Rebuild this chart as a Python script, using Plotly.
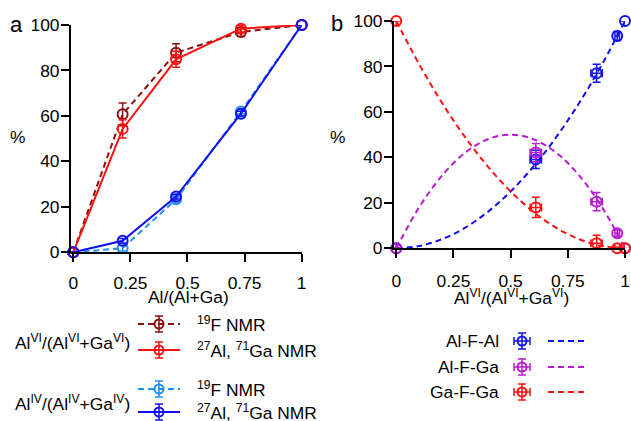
import plotly.graph_objects as go

# ---------------- data: panel a ----------------
xa = [0, 0.216, 0.45, 0.734, 1.0]
vi_19f = [0, 60.7, 87.8, 96.9, 100]
vi_19f_err = [0, 5, 4, 2, 0]
vi_alga = [0, 54.3, 84.9, 98.4, 100]
vi_alga_err = [0, 4, 3.5, 1.5, 0]
iv_19f = [0, 1.8, 23.3, 61.9, 100]
iv_19f_err = [0, 1.2, 1.2, 1, 0]
iv_alga = [0, 5.1, 24.5, 61.0, 100]
iv_alga_err = [0, 1, 1, 1, 0]

# ---------------- data: panel b ----------------
xb = [0, 0.61, 0.876, 0.966, 1.0]
xb_err = [0, 0.025, 0.025, 0.01, 0]
alfal = [0, 39.1, 77.0, 93.4, 100]
alfal_err = [0, 4, 4, 2, 0]
alfga = [0, 42.1, 20.5, 6.6, 0]
alfga_err = [0, 4, 4, 1.5, 0]
gafga = [100, 18.0, 2.2, 0, 0]
gafga_err = [0, 4.5, 3.5, 0.5, 0]

# dashed model curves
xc = [0, 0.1, 0.2, 0.3, 0.4, 0.5, 0.6, 0.7, 0.8, 0.9, 1.0]
c_alfal = [0, 1, 4, 9, 16, 25, 36, 49, 64, 81, 100]
c_alfga = [0, 18, 32, 42, 48, 50, 48, 42, 32, 18, 0]
c_gafga = [100, 81, 64, 49, 36, 25, 16, 9, 4, 1, 0]

xticks = [0, 0.25, 0.5, 0.75, 1]
xtick_text = ["0", "0.25", "0.5", "0.75", "1"]
yticks = [0, 20, 40, 60, 80, 100]

# ---------------- style ----------------
W, H = 631, 421
FONT = "Liberation Sans, Arial, sans-serif"
FS = 17.4
DARKRED = "#8B1010"
RED = "#FF1010"
LIGHTBLUE = "#2090F0"
BLUE = "#1010F0"
MAGENTA = "#B81AD0"
DASH = "6px,4px"

fig = go.Figure()


def series(x, y, ey, color, dash, xaxis, yaxis, ex=None):
    kw = {}
    if ex is not None:
        kw["error_x"] = dict(type="data", array=ex, color=color, thickness=1.5, width=4)
    fig.add_trace(go.Scatter(
        x=x, y=y, mode="lines+markers" if dash is not None else "markers",
        xaxis=xaxis, yaxis=yaxis, cliponaxis=False, showlegend=False,
        line=dict(color=color, width=2, dash=dash if dash else "solid"),
        marker=dict(symbol="circle-open", size=10, color=color, line=dict(width=2, color=color)),
        error_y=dict(type="data", array=ey, color=color, thickness=1.5, width=4),
        **kw))


# panel a
series(xa, vi_19f, vi_19f_err, DARKRED, DASH, "x", "y")
series(xa, iv_19f, iv_19f_err, LIGHTBLUE, DASH, "x", "y")
series(xa, vi_alga, vi_alga_err, RED, "solid", "x", "y")
series(xa, iv_alga, iv_alga_err, BLUE, "solid", "x", "y")

# panel b curves
for yc, col in [(c_alfal, BLUE), (c_alfga, MAGENTA), (c_gafga, RED)]:
    fig.add_trace(go.Scatter(x=xc, y=yc, mode="lines", line_shape="spline",
                             xaxis="x2", yaxis="y2", showlegend=False, cliponaxis=False,
                             line=dict(color=col, width=2, dash=DASH)))
# panel b points
series(xb, alfal, alfal_err, BLUE, None, "x2", "y2", xb_err)
series(xb, alfga, alfga_err, MAGENTA, None, "x2", "y2", xb_err)
series(xb, gafga, gafga_err, RED, None, "x2", "y2", xb_err)

# ---------------- legend glyphs (helper pixel axis) ----------------
LEG_A = [  # (row y, color, dash)
    (324, DARKRED, DASH), (350, RED, "solid"), (389, LIGHTBLUE, DASH), (412, BLUE, "solid")]
LEG_A_X = (138, 159, 180)
for yy, col, dsh in LEG_A:
    fig.add_trace(go.Scatter(x=[LEG_A_X[0], LEG_A_X[2]], y=[yy, yy], mode="lines",
                             xaxis="x3", yaxis="y3", showlegend=False, hoverinfo="skip",
                             line=dict(color=col, width=2, dash=dsh)))
    fig.add_trace(go.Scatter(x=[LEG_A_X[1]], y=[yy], mode="markers", xaxis="x3", yaxis="y3",
                             showlegend=False, hoverinfo="skip",
                             marker=dict(symbol="circle-open", size=9, color=col, line=dict(width=2, color=col)),
                             error_y=dict(type="data", array=[8], color=col, thickness=1.5, width=4)))

LEG_B = [(341, BLUE, "Al-F-Al"), (367, MAGENTA, "Al-F-Ga"), (392, RED, "Ga-F-Ga")]
LEG_B_MX = 522
LEG_B_LX = (548, 588)
for yy, col, name in LEG_B:
    fig.add_trace(go.Scatter(x=[LEG_B_MX], y=[yy], mode="markers", xaxis="x3", yaxis="y3",
                             showlegend=False, hoverinfo="skip",
                             marker=dict(symbol="circle-open", size=9, color=col, line=dict(width=2, color=col)),
                             error_y=dict(type="data", array=[8], color=col, thickness=1.5, width=4),
                             error_x=dict(type="data", array=[8], color=col, thickness=1.5, width=4)))
    fig.add_trace(go.Scatter(x=list(LEG_B_LX), y=[yy, yy], mode="lines", xaxis="x3", yaxis="y3",
                             showlegend=False, hoverinfo="skip",
                             line=dict(color=col, width=2, dash=DASH)))

# ---------------- axes ----------------
axis_common = dict(showgrid=False, zeroline=False, showline=True, linecolor="black", linewidth=2,
                   ticks="outside", ticklen=8, tickwidth=2, tickcolor="black", automargin=False,
                   tickfont=dict(family=FONT, size=FS, color="black"))

fig.update_layout(
    template="none",
    width=W, height=H, margin=dict(l=0, r=0, t=0, b=0, pad=0), autosize=False,
    paper_bgcolor="white", plot_bgcolor="rgba(0,0,0,0)",
    font=dict(family=FONT, size=FS, color="black"),
    xaxis=dict(domain=[71 / W, 301.7 / W], range=[-0.01, 1], anchor="y", ticklabelstandoff=6,
               tickvals=xticks, ticktext=xtick_text, **axis_common),
    yaxis=dict(domain=[(H - 252.3) / H, (H - 25) / H], range=[0, 100], anchor="x",
               ticklabelstandoff=-2, tickvals=yticks, **axis_common),
    xaxis2=dict(domain=[394 / W, 625 / W], range=[-0.01, 1], anchor="y2", ticklabelstandoff=8,
                tickvals=xticks, ticktext=xtick_text, **axis_common),
    yaxis2=dict(domain=[(H - 248.3) / H, (H - 21) / H], range=[0, 100], anchor="x2",
                ticklabelstandoff=-2, tickvals=yticks, **axis_common),
    xaxis3=dict(domain=[0, 1], range=[0, W], visible=False, anchor="y3", fixedrange=True,
                automargin=False),
    yaxis3=dict(domain=[0, 1], range=[H, 0], visible=False, anchor="x3", fixedrange=True,
                automargin=False),
    showlegend=False,
)

ann = []


def txt(x, y, t, size=FS, xanchor="center"):
    ann.append(dict(x=x, y=y, xref="x3", yref="y3", text=t, showarrow=False,
                    xanchor=xanchor, yanchor="middle", font=dict(family=FONT, size=size, color="black")))


txt(16.5, 24, "a", 22)
txt(337, 23, "b", 22)
txt(17, 137, "%")
txt(337, 137, "%")
txt(188, 297, "Al/(Al+Ga)")
txt(511, 297, "Al<sup>VI</sup>/(Al<sup>VI</sup>+Ga<sup>VI</sup>)")
txt(13, 342, "Al<sup>VI</sup>/(Al<sup>VI</sup>+Ga<sup>VI</sup>)", xanchor="left")
txt(13, 403, "Al<sup>IV</sup>/(Al<sup>IV</sup>+Ga<sup>IV</sup>)", xanchor="left")
for yy, lab in zip([324, 350, 389, 412],
                   ["<sup>19</sup>F NMR", "<sup>27</sup>Al, <sup>71</sup>Ga NMR",
                    "<sup>19</sup>F NMR", "<sup>27</sup>Al, <sup>71</sup>Ga NMR"]):
    txt(195, yy, lab, xanchor="left")
for yy, col, name in LEG_B:
    txt(501, yy, name, xanchor="right")

fig.update_layout(annotations=ann)
fig.write_html("out.html", config={"displayModeBar": False},
               post_script="document.body.style.margin='0';document.body.style.overflow='hidden';")
